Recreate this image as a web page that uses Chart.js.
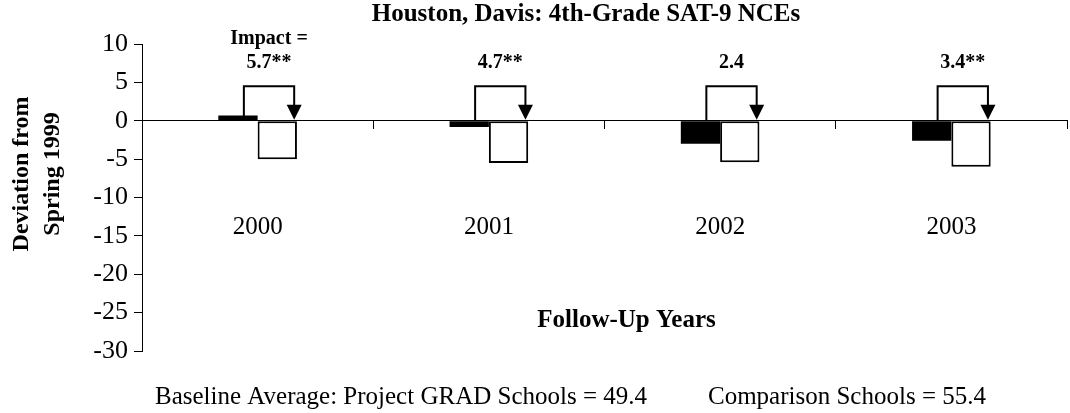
<!DOCTYPE html>
<html>
<head>
<meta charset="utf-8">
<script src="https://cdn.jsdelivr.net/npm/chart.js@4.4.1/dist/chart.umd.min.js"></script>
<style>
  html, body { margin: 0; padding: 0; background: #fff; }
  #wrap { width: 1070px; height: 413px; }
</style>
</head>
<body>
<div id="wrap"><canvas id="chart"></canvas></div>
<script>
// ---- data ----
const years = ['2000', '2001', '2002', '2003'];
const gradDev = [0.7, -0.8, -3.0, -2.6];     // Project GRAD schools
const compDev = [-5.0, -5.5, -5.4, -6.0];    // Comparison schools
const impactLabels = ['5.7**', '4.7**', '2.4', '3.4**'];
const yTicks = [10, 5, 0, -5, -10, -15, -20, -25, -30];

const serif = "'Liberation Serif', 'Times New Roman', serif";

// title, brackets, impact labels and free text around the plot
const annotate = {
    id: 'annotate',
    afterDraw(chart) {
        const ctx = chart.ctx;
        const y = chart.scales.y;
        const area = chart.chartArea;
        const grad = chart.getDatasetMeta(0).data;
        const comp = chart.getDatasetMeta(1).data;
        const zero = y.getPixelForValue(0);
        const top = y.getPixelForValue(4.5);
        const labelY = y.getPixelForValue(7.5);

        ctx.save();
        ctx.strokeStyle = '#000';
        ctx.fillStyle = '#000';
        ctx.lineWidth = 2;
        ctx.textAlign = 'center';
        ctx.textBaseline = 'middle';

        ctx.font = 'bold 25px ' + serif;
        ctx.fillText('Houston, Davis: 4th-Grade SAT-9 NCEs', 586, 15);

        grad.forEach((bar, i) => {
            const x1 = bar.x + bar.width * 0.15;
            const x2 = comp[i].x + comp[i].width * 0.43;
            ctx.beginPath();
            ctx.moveTo(x1, zero);
            ctx.lineTo(x1, top);
            ctx.lineTo(x2, top);
            ctx.lineTo(x2, zero - 14);
            ctx.stroke();
            ctx.beginPath();
            ctx.moveTo(x2 - 7.5, zero - 16);
            ctx.lineTo(x2 + 7.5, zero - 16);
            ctx.lineTo(x2, zero - 1);
            ctx.closePath();
            ctx.fill();

            ctx.font = 'bold 20px ' + serif;
            ctx.fillText(impactLabels[i], (x1 + x2) / 2, labelY);
            if (i === 0) ctx.fillText('Impact =', (x1 + x2) / 2, labelY - 24);
        });

        // x title sits inside the plot
        ctx.font = 'bold 25px ' + serif;
        ctx.fillText('Follow-Up Years', (area.left + area.right) / 2 + 22, y.getPixelForValue(-26));

        // y title, two rotated lines
        ctx.font = 'bold 24px ' + serif;
        [['Deviation from', 22], ['Spring 1999', 53]].forEach(([txt, x]) => {
            ctx.save();
            ctx.translate(x, 174);
            ctx.rotate(-Math.PI / 2);
            ctx.fillText(txt, 0, 0);
            ctx.restore();
        });

        // baseline note
        ctx.font = '25px ' + serif;
        ctx.textAlign = 'left';
        ctx.fillText('Baseline Average: Project GRAD Schools = 49.4', 155, 397);
        ctx.fillText('Comparison Schools = 55.4', 708, 397);
        ctx.restore();
    }
};

new Chart(document.getElementById('chart'), {
    type: 'bar',
    data: {
        labels: years,
        datasets: [
            {
                label: 'Project GRAD Schools',
                data: gradDev,
                backgroundColor: '#000',
                borderColor: '#000',
                borderWidth: 0
            },
            {
                label: 'Comparison Schools',
                data: compDev,
                backgroundColor: '#fff',
                borderColor: '#000',
                borderWidth: 2,
                borderSkipped: false
            }
        ]
    },
    options: {
        responsive: true,
        maintainAspectRatio: false,
        animation: false,
        datasets: { bar: { categoryPercentage: 0.34, barPercentage: 1.0 } },
        layout: { padding: { top: 44, right: 3, bottom: 62, left: 0 } },
        plugins: {
            legend: { display: false },
            tooltip: { enabled: false }
        },
        scales: {
            x: {
                position: { y: 0 },
                grid: { drawOnChartArea: false, tickLength: 8, color: '#000', offset: true },
                border: { color: '#000', width: 1 },
                ticks: { color: '#000', font: { family: serif, size: 25 }, padding: 84, maxRotation: 0 }
            },
            y: {
                min: Math.min(...yTicks),
                max: Math.max(...yTicks),
                afterFit(scale) { scale.width = 142; },
                afterBuildTicks(scale) { scale.ticks = yTicks.map(v => ({ value: v })); },
                grid: { drawOnChartArea: false, tickLength: 8, color: '#000' },
                border: { color: '#000', width: 1 },
                ticks: { color: '#000', font: { family: serif, size: 26 }, padding: 6 }
            }
        }
    },
    plugins: [annotate]
});
</script>
</body>
</html>
